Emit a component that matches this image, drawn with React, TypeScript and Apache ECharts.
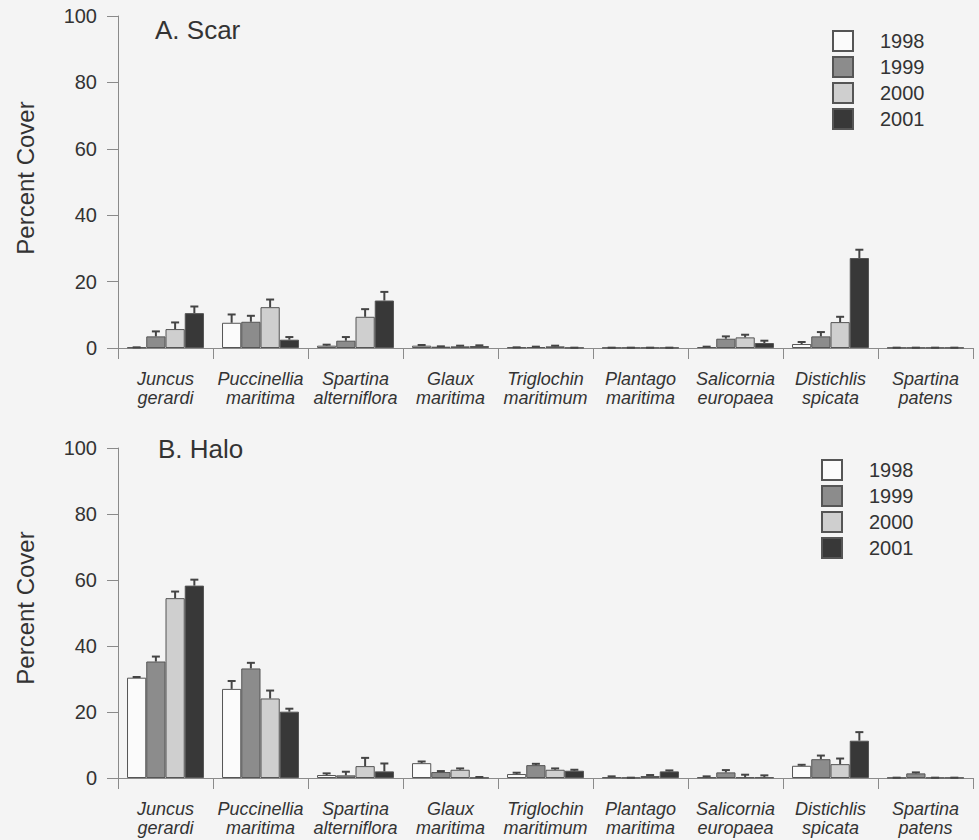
import React, { useEffect, useRef } from "react";
import * as echarts from "echarts";

const categories = [
  "Juncus\ngerardi",
  "Puccinellia\nmaritima",
  "Spartina\nalterniflora",
  "Glaux\nmaritima",
  "Triglochin\nmaritimum",
  "Plantago\nmaritima",
  "Salicornia\neuropaea",
  "Distichlis\nspicata",
  "Spartina\npatens",
];
const years = ["1998", "1999", "2000", "2001"];
const yTicks = { min: 0, max: 100, interval: 20 };

// A. Scar — mean percent cover
const scar1998 = [0.2, 7.6, 0.7, 0.7, 0.2, 0.1, 0.3, 1.2, 0.1];
const scar1999 = [3.5, 7.9, 2.2, 0.4, 0.3, 0.1, 2.8, 3.5, 0.1];
const scar2000 = [5.7, 12.3, 9.4, 0.5, 0.5, 0.1, 3.2, 7.8, 0.1];
const scar2001 = [10.5, 2.5, 14.3, 0.6, 0.1, 0.1, 1.5, 27.1, 0.1];
// A. Scar — standard error
const scarErr1998 = [0, 2.5, 0.3, 0.2, 0, 0, 0.1, 0.6, 0];
const scarErr1999 = [1.5, 1.8, 1.1, 0.1, 0.1, 0, 0.7, 1.3, 0];
const scarErr2000 = [2.0, 2.3, 2.3, 0.2, 0.2, 0, 0.8, 1.6, 0];
const scarErr2001 = [2.0, 0.8, 2.6, 0.2, 0, 0, 0.7, 2.5, 0];

// B. Halo — mean percent cover
const halo1998 = [30.4, 27.0, 0.9, 4.5, 1.2, 0.2, 0.2, 3.7, 0.1];
const halo1999 = [35.3, 33.2, 0.8, 1.8, 3.9, 0.1, 1.7, 5.7, 1.4];
const halo2000 = [54.5, 24.1, 3.6, 2.5, 2.5, 0.6, 0.2, 4.2, 0.1];
const halo2001 = [58.3, 20.1, 2.0, 0.1, 2.2, 2.0, 0.2, 11.3, 0.1];
// B. Halo — standard error
const haloErr1998 = [0.2, 2.4, 0.5, 0.5, 0.4, 0.3, 0.3, 0.3, 0];
const haloErr1999 = [1.5, 1.7, 1.1, 0.3, 0.4, 0, 0.7, 1.1, 0.3];
const haloErr2000 = [2.0, 2.4, 2.5, 0.4, 0.4, 0.3, 0.8, 1.7, 0];
const haloErr2001 = [1.8, 0.9, 2.4, 0.2, 0.3, 0.3, 0.6, 2.6, 0];

const scarMeans = [scar1998, scar1999, scar2000, scar2001];
const scarErrs = [scarErr1998, scarErr1999, scarErr2000, scarErr2001];
const haloMeans = [halo1998, halo1999, halo2000, halo2001];
const haloErrs = [haloErr1998, haloErr1999, haloErr2000, haloErr2001];

const FONT = "'Liberation Sans', Arial, Helvetica, sans-serif";
const TEXT = "#333";
const AXIS = "#8a8a8a";
const barColors = ["#fbfbfb", "#8c8c8c", "#cfcfcf", "#383838"];
const CAT_GAP = 0.19;

export default function App() {
  const ref = useRef<HTMLDivElement>(null);
  useEffect(() => {
    if (!ref.current) return;
    const chart = echarts.init(ref.current, null, { renderer: "svg" });

    const grids = [
      { left: 118, right: 6, top: 16, height: 332 },
      { left: 118, right: 6, top: 448, height: 330 },
    ];

    const xAxes = [0, 1].map((g) => ({
      type: "category",
      gridIndex: g,
      data: categories,
      axisLine: { show: true, lineStyle: { color: AXIS, width: 1 } },
      axisTick: { show: true, length: 11, interval: 0, lineStyle: { color: AXIS } },
      axisLabel: {
        interval: 0,
        margin: 21,
        fontSize: 18,
        lineHeight: 19,
        fontStyle: "italic",
        fontFamily: FONT,
        color: TEXT,
      },
      splitLine: { show: false },
    }));

    const yAxes = [0, 1].map((g) => ({
      type: "value",
      gridIndex: g,
      min: yTicks.min,
      max: yTicks.max,
      interval: yTicks.interval,
      axisLine: { show: true, lineStyle: { color: AXIS, width: 1 } },
      axisTick: { show: true, length: 11, lineStyle: { color: AXIS } },
      axisLabel: { margin: 21, fontSize: 20, fontFamily: FONT, color: TEXT },
      splitLine: { show: false },
    }));

    const barSeries = (means: number[][], g: number) =>
      means.map((vals, s) => ({
        type: "bar",
        name: years[s],
        xAxisIndex: g,
        yAxisIndex: g,
        data: vals,
        barGap: "0%",
        barCategoryGap: CAT_GAP * 100 + "%",
        itemStyle: { color: barColors[s], borderColor: "#555", borderWidth: 1 },
        emphasis: { disabled: true },
      }));

    const errSeries = (means: number[][], errs: number[][], g: number) => {
      const data: number[][] = [];
      means.forEach((vals, s) =>
        vals.forEach((v, i) => data.push([i, v, errs[s][i], s]))
      );
      return {
        type: "custom",
        xAxisIndex: g,
        yAxisIndex: g,
        z: 5,
        silent: true,
        data,
        encode: { x: 0, y: 1 },
        renderItem: (params: any, api: any) => {
          const cat = api.value(0);
          const mean = api.value(1);
          const err = api.value(2);
          const s = api.value(3);
          const bandW = api.size([1, 0])[0];
          const barW = (bandW * (1 - CAT_GAP)) / 4;
          const c = api.coord([cat, mean]);
          const t = api.coord([cat, mean + err]);
          const x = c[0] + (s - 1.5) * barW;
          const st = { stroke: "#444", lineWidth: 2 };
          return {
            type: "group",
            children: [
              { type: "line", shape: { x1: x, y1: c[1], x2: x, y2: t[1] }, style: st },
              { type: "line", shape: { x1: x - 4, y1: t[1], x2: x + 4, y2: t[1] }, style: st },
            ],
          };
        },
      };
    };

    const legendBase = {
      data: years,
      orient: "vertical",
      itemWidth: 20,
      itemHeight: 20,
      itemGap: 4,
      selectedMode: false,
      icon: "rect",
      textStyle: { fontSize: 20, fontFamily: FONT, color: TEXT, padding: [0, 0, 0, 22], lineHeight: 20 },
    };

    const option: any = {
      animation: false,
      backgroundColor: "#f4f4f4",
      textStyle: { fontFamily: FONT },
      grid: grids,
      xAxis: xAxes,
      yAxis: yAxes,
      legend: [
        { ...legendBase, left: 827, top: 25 },
        { ...legendBase, left: 816, top: 454 },
      ],
      title: [
        { text: "A. Scar", left: 155, top: 17, padding: 0, textStyle: { fontSize: 26, fontWeight: "normal", fontFamily: FONT, color: TEXT } },
        { text: "B. Halo", left: 158, top: 436, padding: 0, textStyle: { fontSize: 26, fontWeight: "normal", fontFamily: FONT, color: TEXT } },
      ],
      graphic: [
        {
          type: "text",
          x: 25,
          y: 178,
          rotation: Math.PI / 2,
          style: { text: "Percent Cover", fontSize: 24, fontFamily: FONT, fill: TEXT, textAlign: "center", textVerticalAlign: "middle" },
        },
        {
          type: "text",
          x: 25,
          y: 608,
          rotation: Math.PI / 2,
          style: { text: "Percent Cover", fontSize: 24, fontFamily: FONT, fill: TEXT, textAlign: "center", textVerticalAlign: "middle" },
        },
      ],
      series: [
        ...barSeries(scarMeans, 0),
        ...barSeries(haloMeans, 1),
        errSeries(scarMeans, scarErrs, 0),
        errSeries(haloMeans, haloErrs, 1),
      ],
    };
    chart.setOption(option);
    return () => chart.dispose();
  }, []);
  return (
    <div
      ref={ref}
      style={{ position: "fixed", left: 0, top: 0, width: 979, height: 840, background: "#f4f4f4" }}
    />
  );
}
